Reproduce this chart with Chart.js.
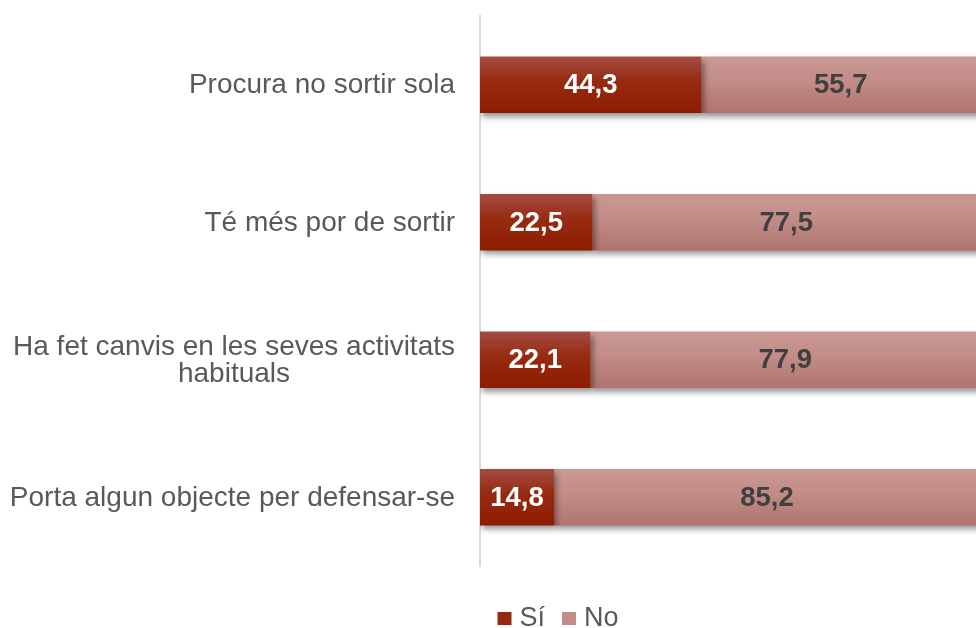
<!DOCTYPE html>
<html>
<head>
<meta charset="utf-8">
<script src="https://cdn.jsdelivr.net/npm/chart.js@4.4.1/dist/chart.umd.min.js"></script>
<style>
  html, body { margin: 0; padding: 0; background: #fff; overflow: hidden; }
  #wrap { width: 980px; height: 628px; }
</style>
</head>
<body>
<div id="wrap"><canvas id="chart" width="980" height="628"></canvas></div>
<script>
// categories (multi-line labels as arrays)
const categories = [
  'Procura no sortir sola',
  'Té més por de sortir',
  ['Ha fet canvis en les seves activitats', 'habituals'],
  'Porta algun objecte per defensar-se'
];
const seriesNames = ['Sí', 'No'];
const valuesSi = [44.3, 22.5, 22.1, 14.8];
const valuesNo = [55.7, 77.5, 77.9, 85.2];

const FONT = "'Liberation Sans', Arial, sans-serif";
const TEXT_GREY = '#595959';

// top / bottom gradient stops per series
const siColors = { top: '#a34c42', mid: '#962a10', bottom: '#8e1c00' };
const noColors = { top: '#ca9893', mid: '#c28c87', bottom: '#b07370' };

function barGradient(colors) {
  return function (context) {
    const chart = context.chart;
    const yScale = chart.scales.y;
    if (!chart.chartArea || !yScale || context.dataIndex === undefined) return colors.mid;
    const yc = yScale.getPixelForValue(context.dataIndex);
    const half = 28;
    const g = chart.ctx.createLinearGradient(0, yc - half, 0, yc + half);
    g.addColorStop(0, colors.top);
    g.addColorStop(0.45, colors.mid);
    g.addColorStop(1, colors.bottom);
    return g;
  };
}

function fmt(v) {
  return v.toFixed(1).replace('.', ',');
}

// soft drop shadow under the bars + value labels inside each segment
const barDecor = {
  id: 'barDecor',
  beforeDatasetsDraw(chart) {
    const ctx = chart.ctx;
    ctx.save();
    ctx.shadowColor = 'rgba(0,0,0,0.42)';
    ctx.shadowBlur = 6;
    ctx.shadowOffsetX = 2;
    ctx.shadowOffsetY = 4;
  },
  afterDatasetsDraw(chart) {
    const ctx = chart.ctx;
    ctx.restore();
    ctx.save();
    ctx.font = 'bold 27.5px ' + FONT;
    ctx.textAlign = 'center';
    ctx.textBaseline = 'middle';
    chart.data.datasets.forEach((ds, di) => {
      const meta = chart.getDatasetMeta(di);
      ctx.fillStyle = di === 0 ? '#ffffff' : '#404040';
      meta.data.forEach((bar, i) => {
        const cx = (bar.x + bar.base) / 2;
        ctx.fillText(fmt(ds.data[i]), cx, bar.y + 1);
      });
    });
    ctx.restore();
  }
};

// category labels: block right-aligned next to the axis, lines centred within the block
const catLabels = {
  id: 'catLabels',
  afterDraw(chart) {
    const ctx = chart.ctx;
    const yScale = chart.scales.y;
    const right = chart.chartArea.left - 25;
    const lineH = 27;
    ctx.save();
    ctx.font = '28px ' + FONT;
    ctx.fillStyle = TEXT_GREY;
    ctx.textAlign = 'center';
    ctx.textBaseline = 'middle';
    chart.data.labels.forEach((lab, i) => {
      const lines = Array.isArray(lab) ? lab : [lab];
      const w = Math.max(...lines.map(l => ctx.measureText(l).width));
      const cx = right - w / 2;
      const yc = yScale.getPixelForValue(i);
      const y0 = yc - (lines.length - 1) * lineH / 2;
      lines.forEach((l, k) => ctx.fillText(l, cx, y0 + k * lineH + 1));
    });
    ctx.restore();
  }
};

// legend row under the plot
const legendRow = {
  id: 'legendRow',
  afterDraw(chart) {
    const ctx = chart.ctx;
    const centerX = 558;
    const baseY = 626;
    const box = 14, gap = 8, spacing = 17;
    ctx.save();
    ctx.font = '27px ' + FONT;
    ctx.textBaseline = 'alphabetic';
    const swatches = [siColors.mid, noColors.mid];
    const items = chart.data.datasets.map((ds, i) => ({
      text: ds.label, color: swatches[i], w: ctx.measureText(ds.label).width
    }));
    const total = items.reduce((s, it) => s + box + gap + it.w, 0) + spacing * (items.length - 1);
    let x = centerX - total / 2;
    items.forEach(it => {
      ctx.fillStyle = it.color;
      ctx.fillRect(x, baseY - 14, box, 13);
      x += box + gap;
      ctx.fillStyle = TEXT_GREY;
      ctx.textAlign = 'left';
      ctx.fillText(it.text, x, baseY);
      x += it.w + spacing;
    });
    ctx.restore();
  }
};

new Chart(document.getElementById('chart'), {
  type: 'bar',
  data: {
    labels: categories,
    datasets: [
      {
        label: seriesNames[0],
        data: valuesSi,
        backgroundColor: barGradient(siColors),
        borderWidth: 0,
        barPercentage: 0.41,
        categoryPercentage: 1
      },
      {
        label: seriesNames[1],
        data: valuesNo,
        backgroundColor: barGradient(noColors),
        borderWidth: 0,
        barPercentage: 0.41,
        categoryPercentage: 1
      }
    ]
  },
  options: {
    indexAxis: 'y',
    responsive: false,
    animation: false,
    layout: { padding: { top: 16, bottom: 62, left: 0, right: 0 } },
    scales: {
      x: {
        stacked: true,
        min: 0,
        max: 100,
        display: false
      },
      y: {
        stacked: true,
        grid: { display: false },
        border: { display: true, color: '#d9d9d9', width: 2 },
        ticks: { display: false },
        afterFit(scale) { scale.width = 480; }
      }
    },
    plugins: {
      legend: { display: false },
      tooltip: { enabled: false }
    }
  },
  plugins: [barDecor, catLabels, legendRow]
});
</script>
</body>
</html>
